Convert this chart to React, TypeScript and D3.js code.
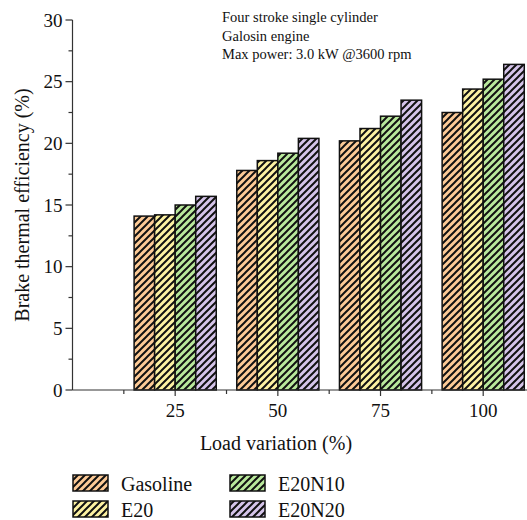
import React from 'react';
import * as d3 from 'd3';

const loads = [25, 50, 75, 100];
const fuels = ['Gasoline', 'E20', 'E20N10', 'E20N20'];
const gasoline = [14.1, 17.8, 20.2, 22.5];
const e20 = [14.2, 18.6, 21.2, 24.4];
const e20n10 = [15.0, 19.2, 22.2, 25.2];
const e20n20 = [15.7, 20.4, 23.5, 26.4];
const yTicks = [0, 5, 10, 15, 20, 25, 30];
const notes = ['Four stroke single cylinder', 'Galosin engine', 'Max power: 3.0 kW @3600 rpm'];

const colors = ['#fdca96', '#fdf2a2', '#b9e99c', '#d5c4ea'];
const font = '"Liberation Serif", "Times New Roman", serif';

const App = () => {
    const W = 527;
    const H = 520;
    const margin = { top: 20, left: 72.5, bottom: 130 };
    const plotBottom = H - margin.bottom;

    const x = d3.scaleLinear().domain([0, 110.7]).range([margin.left, margin.left + 4.107 * 110.7]);
    const y = d3.scaleLinear().domain([0, 30]).range([plotBottom, margin.top]);

    const series = [gasoline, e20, e20n10, e20n20];
    const barW = x(5) - x(0);
    const x1 = d3.scaleBand().domain(fuels).range([0, barW * 4]);

    const minorY = d3.range(2.5, 30, 5);
    const minorX = d3.range(12.5, 110, 25);

    return (
        <svg width={W} height={H} style={{ position: 'absolute', left: 0, top: 0 }} fontFamily={font}>
            <defs>
                {fuels.map((f, i) =>
                    <pattern key={f} id={'hatch' + i} patternUnits="userSpaceOnUse" width={7} height={7}>
                        <rect width={7} height={7} fill={colors[i]} />
                        <path d="M0,7 L7,0 M-2,2 L2,-2 M5,9 L9,5" stroke="#111" strokeWidth={2} />
                    </pattern>
                )}
            </defs>

            {/* bars */}
            {loads.map((l, li) =>
                <g key={l}>
                    {fuels.map((f, fi) => {
                        const v = series[fi][li];
                        return <rect key={f}
                            x={x(l) - 2 * barW + (x1(f) || 0)}
                            y={y(v)}
                            width={x1.bandwidth()}
                            height={y(0) - y(v)}
                            fill={`url(#hatch${fi})`}
                            stroke="#111" strokeWidth={1.5} />;
                    })}
                </g>
            )}

            {/* y axis */}
            <line x1={margin.left} x2={margin.left} y1={y(0)} y2={y(30)} stroke="#333" strokeWidth={1.2} />
            {yTicks.map(t =>
                <g key={t}>
                    <line x1={margin.left - 7} x2={margin.left} y1={y(t)} y2={y(t)} stroke="#333" strokeWidth={1.2} />
                    <text x={margin.left - 10} y={y(t)} dy="0.35em" textAnchor="end" fontSize={19} fill="#111">{t}</text>
                </g>
            )}
            {minorY.map(t =>
                <line key={t} x1={margin.left - 4} x2={margin.left} y1={y(t)} y2={y(t)} stroke="#333" strokeWidth={1.2} />
            )}
            <text transform={`translate(29,${(y(0) + y(30)) / 2}) rotate(-90)`} textAnchor="middle" fontSize={20} fill="#111">
                Brake thermal efficiency (%)
            </text>

            {/* x axis */}
            <line x1={margin.left} x2={W} y1={plotBottom} y2={plotBottom} stroke="#333" strokeWidth={1.2} />
            {loads.map(t =>
                <g key={t}>
                    <line x1={x(t)} x2={x(t)} y1={plotBottom} y2={plotBottom + 6} stroke="#333" strokeWidth={1.2} />
                    <text x={x(t)} y={plotBottom + 27} textAnchor="middle" fontSize={19} fill="#111">{t}</text>
                </g>
            )}
            {minorX.map(t =>
                <line key={t} x1={x(t)} x2={x(t)} y1={plotBottom} y2={plotBottom + 4} stroke="#333" strokeWidth={1.2} />
            )}
            <text x={276} y={450} textAnchor="middle" fontSize={20} fill="#111">Load variation (%)</text>

            {/* notes */}
            {notes.map((n, i) =>
                <text key={n} x={222} y={22 + i * 18.5} fontSize={14.5} fill="#111">{n}</text>
            )}

            {/* legend */}
            {fuels.map((f, i) => {
                const lx = i < 2 ? 73 : 230;
                const ly = i % 2 === 0 ? 475 : 501;
                return <g key={f}>
                    <rect x={lx} y={ly} width={35} height={16} fill={`url(#hatch${i})`} stroke="#111" strokeWidth={1.5} />
                    <text x={lx + 48} y={ly + 15.5} fontSize={20} fill="#111">{f}</text>
                </g>;
            })}
        </svg>
    );
};

export default App;
